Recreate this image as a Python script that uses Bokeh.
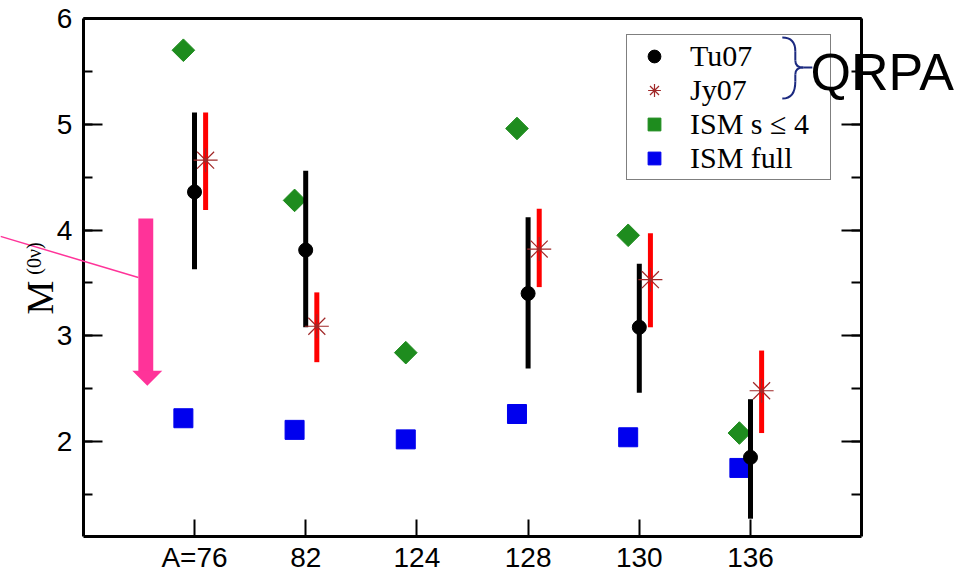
import numpy as np
from bokeh.plotting import figure
from bokeh.models import (ColumnDataSource, Range1d, FixedTicker, SingleIntervalTicker,
                          LinearAxis, Legend, LegendItem, Label, Arrow, BoxAnnotation,
                          PolyAnnotation)
from bokeh.transform import dodge
from bokeh.embed import file_html
from bokeh.resources import INLINE

# ---------------- data ----------------
categories = ["A=76", "82", "124", "128", "130", "136"]
tu07     = np.array([4.36, 3.81, np.nan, 3.40, 3.08, 1.85])
tu07_lo  = np.array([3.63, 3.08, np.nan, 2.69, 2.46, 1.27])
tu07_hi  = np.array([5.11, 4.56, np.nan, 4.12, 3.68, 2.40])
jy07     = np.array([4.66, 3.09, np.nan, 3.82, 3.53, 2.48])
jy07_lo  = np.array([4.19, 2.75, np.nan, 3.46, 3.08, 2.08])
jy07_hi  = np.array([5.11, 3.41, np.nan, 4.20, 3.97, 2.86])
ism_s4   = np.array([5.70, 4.28, 2.84, 4.96, 3.95, 2.08])
ism_full = np.array([2.22, 2.11, 2.02, 2.26, 2.04, 1.75])

# axis extents (data units)
X_MIN, X_MAX = 0.0, 7.0
Y_MIN, Y_MAX = 1.1, 6.0

pos = np.arange(1, len(categories) + 1, dtype=float)
src = ColumnDataSource(dict(x=pos, tu=tu07, tu_lo=tu07_lo, tu_hi=tu07_hi,
                            jy=jy07, jy_lo=jy07_lo, jy_hi=jy07_hi,
                            s4=ism_s4, full=ism_full))

# ---------------- layout: frame = whole canvas, axes at fixed locations ----------------
W, H = 959, 573
PX_X0, PX_PER_X = 82.8, 111.2      # pixel of x=0, pixels per x unit
PX_Y6, PX_PER_Y = 18.0, 105.75     # pixel of y=6, pixels per y unit
x_lo = X_MIN - PX_X0 / PX_PER_X
x_hi = X_MIN + (W - PX_X0) / PX_PER_X
y_hi = Y_MAX + PX_Y6 / PX_PER_Y
y_lo = Y_MAX - (H - PX_Y6) / PX_PER_Y

SANS = "Liberation Sans"
SERIF = "Liberation Serif"
PINK = "#FF3399"

p = figure(width=W, height=H, x_range=Range1d(x_lo, x_hi), y_range=Range1d(y_lo, y_hi),
           output_backend="svg", toolbar_location=None, x_axis_location=None,
           y_axis_location=None,
           min_border_left=0, min_border_right=0, min_border_top=0, min_border_bottom=0)
p.xgrid.visible = False
p.ygrid.visible = False
p.outline_line_color = None
p.background_fill_color = "white"
p.border_fill_color = "white"


def style_axis(ax):
    ax.axis_line_width = 3
    ax.axis_line_color = "black"
    ax.major_tick_line_width = 2
    ax.minor_tick_line_width = 2
    ax.major_tick_out = 0
    ax.minor_tick_out = 0
    ax.major_label_text_font = SANS
    ax.major_label_text_font_size = "28px"
    ax.major_label_text_color = "black"


# bottom axis
xa = LinearAxis(ticker=FixedTicker(ticks=list(pos)), fixed_location=Y_MIN,
                bounds=(X_MIN, X_MAX))
style_axis(xa)
xa.major_label_overrides = {float(i + 1): c for i, c in enumerate(categories)}
xa.major_tick_in = 17
xa.minor_tick_line_color = None
xa.major_label_standoff = 5
p.add_layout(xa, "below")

# left axis
ya = LinearAxis(ticker=SingleIntervalTicker(interval=1, num_minor_ticks=2),
                fixed_location=X_MIN, bounds=(Y_MIN, Y_MAX))
style_axis(ya)
ya.major_tick_in = 19
ya.minor_tick_in = 9
ya.major_label_standoff = 11
p.add_layout(ya, "left")

# right axis (ticks only)
ra = LinearAxis(ticker=SingleIntervalTicker(interval=1, num_minor_ticks=2),
                fixed_location=X_MAX, bounds=(Y_MIN, Y_MAX))
style_axis(ra)
ra.major_tick_in = 20
ra.minor_tick_in = 10
ra.major_label_text_color = None
p.add_layout(ra, "right")

# top axis (frame line only)
ta = LinearAxis(ticker=FixedTicker(ticks=[]), fixed_location=Y_MAX, bounds=(X_MIN, X_MAX))
style_axis(ta)
ta.major_tick_line_color = None
ta.minor_tick_line_color = None
ta.major_label_text_color = None
p.add_layout(ta, "above")

# ---------------- data marks ----------------
r_s4 = p.scatter(x=dodge("x", -0.1), y="s4", source=src, marker="square", angle=np.pi / 4,
                 size=16, fill_color="#1E8C1E", line_color="#1E8C1E")
r_full = p.scatter(x=dodge("x", -0.1), y="full", source=src, marker="square",
                   size=19, fill_color="#0000EE", line_color="#0000EE")
p.segment(x0="x", y0="tu_lo", x1="x", y1="tu_hi", source=src,
          line_color="black", line_width=5)
p.segment(x0=dodge("x", 0.1), y0="jy_lo", x1=dodge("x", 0.1), y1="jy_hi", source=src,
          line_color="#FF0000", line_width=5)
r_tu = p.scatter(x="x", y="tu", source=src, marker="circle", size=14,
                 fill_color="black", line_color="black")
r_jy = p.scatter(x=dodge("x", 0.1), y="jy", source=src, marker="asterisk", size=24,
                 line_color="#A02828", line_width=1.2)

legend = Legend(items=[LegendItem(label="Tu07", renderers=[r_tu]),
                       LegendItem(label="Jy07", renderers=[r_jy]),
                       LegendItem(label="ISM s \u2264 4", renderers=[r_s4]),
                       LegendItem(label="ISM full", renderers=[r_full])],
                location=(626, 393))
legend.label_text_font = SERIF
legend.label_text_font_size = "30px"
legend.label_text_color = "black"
legend.label_standoff = 13
legend.glyph_width = 46
legend.glyph_height = 32
legend.label_height = 32
legend.label_width = 136
legend.spacing = 0
legend.padding = 4
legend.margin = 0
legend.border_line_color = "black"
legend.border_line_width = 1.5
legend.background_fill_alpha = 0
p.add_layout(legend)

# ---------------- decorations ----------------
# QRPA brace
bx0, bx1, bxm, bxt = 6.286, 6.403, 6.475, 6.556
p.quadratic(x0=[bx0, bx1, bxm, bx1], y0=[5.820, 5.603, 5.536, 5.405],
            x1=[bx1, bxm, bx1, bx0], y1=[5.690, 5.536, 5.470, 5.243],
            cx=[bx1, bx1, bx1, bx1], cy=[5.820, 5.536, 5.536, 5.243],
            line_color="#1C2A80", line_width=2)
p.segment(x0=[bx1, bx1, bxm], y0=[5.690, 5.470, 5.536],
          x1=[bx1, bx1, bxt], y1=[5.603, 5.405, 5.536],
          line_color="#1C2A80", line_width=2)
p.add_layout(Label(x=6.54, y=5.49, text="QRPA", text_font=SANS, text_font_size="52px",
                   text_color="black", text_baseline="alphabetic"))

# pink pointer line and arrow
p.add_layout(Arrow(end=None, x_start=x_lo, y_start=3.94, x_end=0.495, y_end=3.55,
                   line_color=PINK, line_width=1.5))
p.add_layout(BoxAnnotation(left=0.495, right=0.629, top=4.108, bottom=2.66,
                           fill_color=PINK, fill_alpha=1, line_color=None))
p.add_layout(PolyAnnotation(xs=[0.441, 0.710, 0.576], ys=[2.67, 2.67, 2.528],
                            fill_color=PINK, fill_alpha=1, line_color=None))

# y axis title M^(0nu)
p.add_layout(Label(x=-0.39, y=3.36, text="M", angle=np.pi / 2, text_font=SERIF,
                   text_font_size="38px", text_align="center", text_baseline="alphabetic",
                   text_color="black"))
p.add_layout(Label(x=-0.44, y=3.73, text="(0\u03bd)", angle=np.pi / 2, text_font=SERIF,
                   text_font_size="20px", text_align="center", text_baseline="alphabetic",
                   text_color="black"))

open("out.html", "w").write(file_html(p, INLINE))
